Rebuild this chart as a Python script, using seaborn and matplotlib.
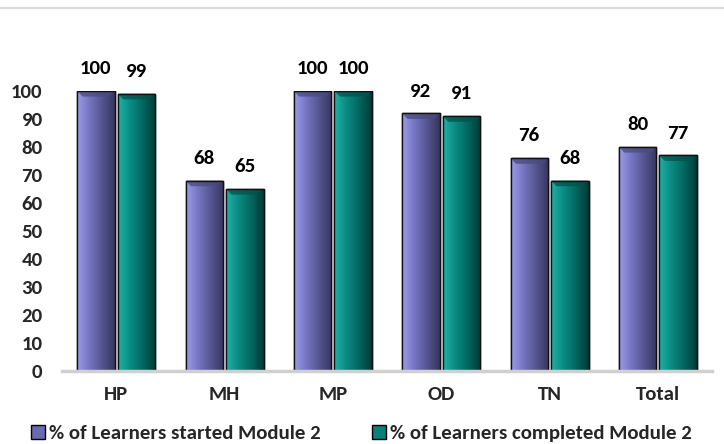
import numpy as np
import pandas as pd
import matplotlib
matplotlib.use("Agg")
import matplotlib.pyplot as plt
from matplotlib.colors import LinearSegmentedColormap
from matplotlib.lines import Line2D
from matplotlib.patches import Patch, Polygon
import seaborn as sns

# data
states = ["HP", "MH", "MP", "OD", "TN", "Total"]
started = [100, 68, 100, 92, 76, 80]
completed = [99, 65, 100, 91, 68, 77]
series_names = ["% of Learners started Module 2", "% of Learners completed Module 2"]

df = pd.DataFrame({
    "state": states * 2,
    "value": started + completed,
    "series": [series_names[0]] * len(states) + [series_names[1]] * len(states),
})

sns.set_style("white")
plt.rcParams["font.family"] = "Carlito"
plt.rcParams["font.weight"] = "bold"
FS = 15

fig = plt.figure(figsize=(7.24, 4.44), dpi=100)
ax = fig.add_axes([62 / 724, (444 - 371) / 444, 650 / 724, 280 / 444])

base_colors = ["#6a6ab0", "#0a8078"]
sns.barplot(data=df, x="state", y="value", hue="series", order=states,
            hue_order=series_names, palette=base_colors, width=0.75, gap=0.08,
            edgecolor="black", linewidth=1.0, legend=False, ax=ax)

# horizontal gradient + top bevel to mimic the excel bars
grads = [
    LinearSegmentedColormap.from_list("p", ["#9a9ae6", "#7474c0", "#55558f", "#363660"]),
    LinearSegmentedColormap.from_list("t", ["#1fb0a6", "#0a8a80", "#036660", "#003a36"]),
]
bevels = ["#4a4a80", "#02524c"]
grad = np.linspace(0, 1, 64).reshape(1, -1)
for cont, cmap, bev in zip(ax.containers, grads, bevels):
    for bar in cont:
        x0, y0 = bar.get_x(), bar.get_y()
        w, h = bar.get_width(), bar.get_height()
        z = bar.get_zorder()
        im = ax.imshow(grad, cmap=cmap, aspect="auto", extent=[x0, x0 + w, y0, y0 + h],
                       zorder=z + 0.1, interpolation="bicubic")
        im.set_clip_path(bar)
        dx, dy = 0.05, 2.0
        top = y0 + h
        ax.add_patch(Polygon([(x0, top), (x0 + w, top), (x0 + w - dx, top - dy), (x0 + dx, top - dy)],
                             closed=True, facecolor=bev, edgecolor="none", alpha=0.75, zorder=z + 0.15))
        ax.add_patch(plt.Rectangle((x0, y0), w, h, fill=False, edgecolor="#111111",
                                   linewidth=1.0, zorder=z + 0.2))
    ax.bar_label(cont, fmt="%d", padding=10, fontsize=FS, fontweight="bold",
                 fontfamily="Carlito", color="black")

ax.set_xlim(-0.5, len(states) - 0.5)
ax.set_ylim(0, 100)
ax.set_yticks(range(0, 101, 10))
ax.set_xlabel("")
ax.set_ylabel("")
ax.tick_params(axis="y", length=0, pad=14, labelsize=FS)
ax.tick_params(axis="x", length=0, pad=11, labelsize=FS)
for lab in ax.get_xticklabels() + ax.get_yticklabels():
    lab.set_fontweight("bold")
    lab.set_fontfamily("Carlito")
for side in ["left", "right", "top"]:
    ax.spines[side].set_visible(False)
ax.spines["bottom"].set_color("#d0d0d0")
ax.spines["bottom"].set_linewidth(2.5)

# thin rule across the top like the original frame
fig.add_artist(Line2D([0, 1], [1 - 8 / 444, 1 - 8 / 444], transform=fig.transFigure,
                      color="#d9d9d9", linewidth=1.5))

handles = [Patch(facecolor=c, edgecolor="black", linewidth=1.0)
           for c in ["#6a6ab0", "#0a8078"]]
fig.legend(handles, series_names, loc="lower left", bbox_to_anchor=(31 / 724, 0.004),
           ncol=2, frameon=False, prop={"family": "Carlito", "weight": "bold", "size": FS},
           handlelength=0.67, handleheight=0.67, handletextpad=0.2, columnspacing=2.45,
           borderaxespad=0.0, borderpad=0.0)

fig.savefig("out.png", dpi=100)
